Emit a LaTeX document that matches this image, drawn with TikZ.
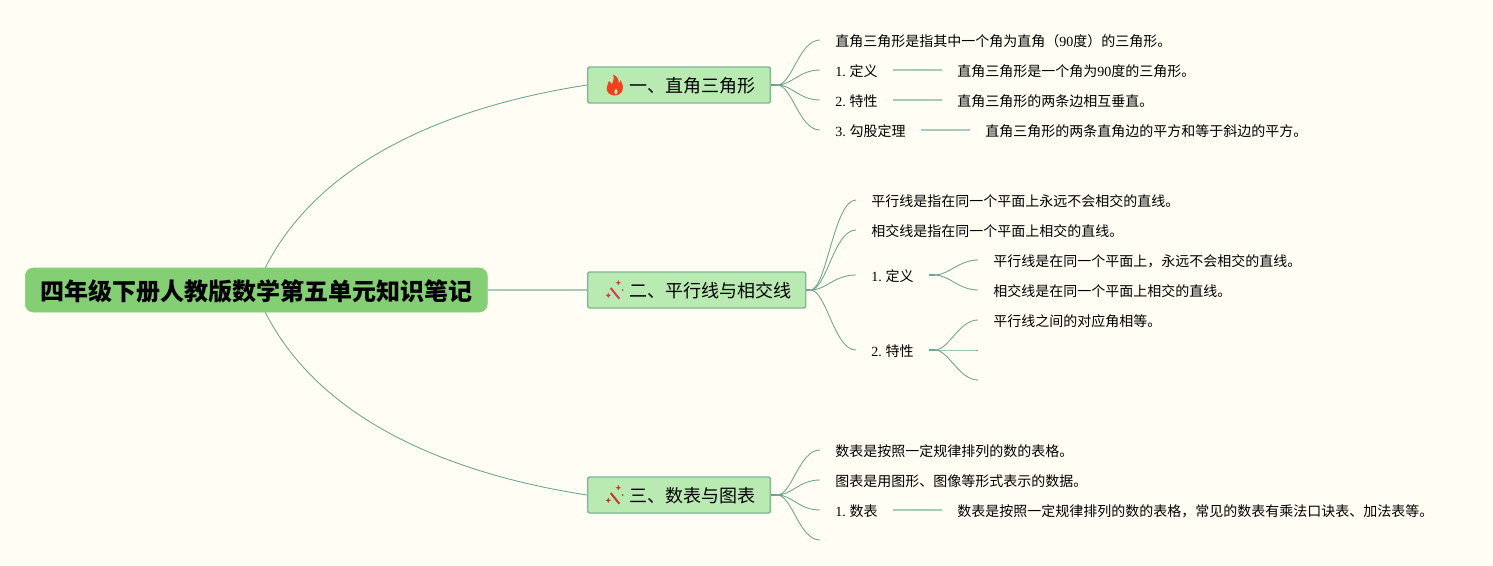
\documentclass[tikz,border=0pt]{standalone}
\usepackage{fontspec}
\newfontfamily\cjk{Noto Sans CJK SC}
\newfontfamily\lat{Liberation Serif}
\newcommand{\numlabel}[1]{{\lat #1.}\hspace{2.8pt}}
\definecolor{pagebg}{HTML}{FFFDF4}
\definecolor{rootfill}{HTML}{84CF74}
\definecolor{topicfill}{HTML}{B9EAB1}
\definecolor{topicline}{HTML}{7DB796}
\definecolor{branchline}{HTML}{6FA58E}
\definecolor{flamered}{HTML}{F0401C}
\definecolor{wandpink}{HTML}{D93A5C}
\definecolor{wandred}{HTML}{C93A26}
\tikzset{
  rootbox/.style={draw=rootfill,fill=rootfill,rounded corners=6pt,anchor=west,minimum width=346.5pt,minimum height=33pt,inner sep=0pt,text height=17pt,text depth=1pt,font=\cjk\fontsize{18pt}{22pt}\selectfont\bfseries},
  topicbox/.style={draw=topicline,fill=topicfill,line width=1.1pt,rounded corners=1.5pt,anchor=west,minimum height=27pt,inner xsep=12pt,inner ysep=0pt,text height=12.76pt,text depth=1pt,font=\cjk\fontsize{13.5pt}{16pt}\selectfont},
  leaf/.style={anchor=west,inner xsep=11.25pt,inner ysep=0pt,text height=10pt,text depth=0.5pt,font=\cjk\fontsize{10.5pt}{13pt}\selectfont},
  branch/.style={draw=branchline,line width=0.65pt},
  stub/.style={draw=branchline,line width=1.3pt},
  straight/.style={draw=branchline!60,line width=0.85pt},
  flame/.pic={
    \fill[flamered] (0,10) .. controls (-4.5,10) and (-8,7) .. (-7.8,2.5) .. controls (-7.6,-0.5) and (-6,-2) .. (-5.5,-4.5)
      .. controls (-3.8,-3.5) and (-3.2,-2.5) .. (-3,-1) .. controls (-1,-4) and (0,-8) .. (-1.5,-11)
      .. controls (2.5,-9.5) and (4.5,-6) .. (4.2,-2.5) .. controls (5.2,-3) and (5.8,-4) .. (6,-5.5)
      .. controls (8,-2.5) and (9,1) .. (8,4.5) .. controls (7,8) and (4,10) .. (0,10) -- cycle;
    \fill[topicfill] (1.5,9.2) .. controls (-0.5,8.5) and (-1,6) .. (1.5,3) .. controls (3.5,5.5) and (3.8,8) .. (1.5,9.2) -- cycle;
  },
  wand/.pic={
    \draw[line width=1.5pt,pic actions] (-4.3,-2) -- (4.3,8.7);
    \fill[pic actions] (3.3,-10) -- (4.2,-8) -- (6,-7.3) -- (4.2,-6.5) -- (3.3,-4.6) -- (2.4,-6.5) -- (0.6,-7.3) -- (2.4,-8) -- cycle;
    \fill[pic actions] (-6.7,2.6) -- (-5.8,4.5) -- (-4,5.3) -- (-5.8,6.1) -- (-6.7,8) -- (-7.6,6.1) -- (-9.4,5.3) -- (-7.6,4.5) -- cycle;
    \fill[pic actions] (7.7,0) circle (1);
  },
}
\begin{document}
\begin{tikzpicture}[x=0.75pt,y=-0.75pt]
\useasboundingbox[fill=pagebg] (0,0) rectangle (1493,565);

\node[rootbox] (root) at (25,290) {四年级下册人教版数学第五单元知识笔记};

\node[topicbox] (t1) at (587,85) {\hspace*{19.5pt}一、直角三角形\hspace*{-1pt}};
\node[topicbox] (t2) at (587,290) {\hspace*{19.5pt}二、平行线与相交线\hspace*{-1.5pt}};
\node[topicbox] (t3) at (587,495) {\hspace*{19.5pt}三、数表与图表\hspace*{-1pt}};

\pic at (614.5,85.5) {flame};
\pic[color=wandpink] at (615,290) {wand};
\pic[color=wandred] at (615,495) {wand};

% first topic
\node[leaf] (a1) at (820,40) {直角三角形是指其中一个角为直角（{\lat 90}度）的三角形。};
\node[leaf] (a2) at (820,70) {\numlabel{1}定义};
\node[leaf] (a3) at (820,100) {\numlabel{2}特性};
\node[leaf] (a4) at (820,130) {\numlabel{3}勾股定理};
\node[leaf] (a5) at (942,70) {直角三角形是一个角为{\lat 90}度的三角形。};
\node[leaf] (a6) at (942,100) {直角三角形的两条边相互垂直。};
\node[leaf] (a7) at (970,130) {直角三角形的两条直角边的平方和等于斜边的平方。};

% second topic
\node[leaf] (b1) at (856,200) {平行线是指在同一个平面上永远不会相交的直线。};
\node[leaf] (b2) at (856,230) {相交线是指在同一个平面上相交的直线。};
\node[leaf] (b3) at (856,275) {\numlabel{1}定义};
\node[leaf] (b4) at (856,350) {\numlabel{2}特性};
\node[leaf] (b5) at (978,260) {平行线是在同一个平面上，永远不会相交的直线。};
\node[leaf] (b6) at (978,290) {相交线是在同一个平面上相交的直线。};
\node[leaf] (b7) at (978,320) {平行线之间的对应角相等。};
\coordinate (b8) at (978,350);
\coordinate (b9) at (978,380);

% third topic
\node[leaf] (c1) at (820,450) {数表是按照一定规律排列的数的表格。};
\node[leaf] (c2) at (820,480) {图表是用图形、图像等形式表示的数据。};
\node[leaf] (c3) at (820,510) {\numlabel{1}数表};
\node[leaf] (c4) at (942,510) {数表是按照一定规律排列的数的表格，常见的数表有乘法口诀表、加法表等。};
\coordinate (c5) at (820,540);

\draw[branch] ([xshift=6.75pt]root.north) .. controls (325,150) and (470,103) .. (t1.west);
\draw[branch] ([xshift=6.75pt]root.south) .. controls (325,430) and (470,477) .. (t3.west);
\draw[straight] (root.east) -- (t2.west);

\coordinate (s1) at ([xshift=4.5pt]t1.east);
\coordinate (s2) at ([xshift=3pt]t2.east);
\coordinate (s3) at ([xshift=4.5pt]t3.east);
\coordinate (s4) at ([xshift=4.5pt]b3.east);
\coordinate (s5) at ([xshift=4.5pt]b4.east);

\draw[stub] (t1.east) -- (s1);
\draw[stub] (t2.east) -- (s2);
\draw[stub] (t3.east) -- (s3);
\draw[stub] (b3.east) -- (s4);
\draw[stub] (b4.east) -- (s5);

\foreach \leafname in {a1.west,a2.west,a3.west,a4.west}
  \draw[branch] (s1) .. controls +(15,0) and +(-21,0) .. (\leafname);
\foreach \leafname in {b1.west,b2.west,b3.west,b4.west}
  \draw[branch] (s2) .. controls +(16,0) and +(-22,0) .. (\leafname);
\foreach \leafname in {c1.west,c2.west,c3.west,c5}
  \draw[branch] (s3) .. controls +(15,0) and +(-21,0) .. (\leafname);

\foreach \leafname/\nextname in {a2/a5,a3/a6,a4/a7,c3/c4}
  \draw[straight] (\leafname.east) -- (\nextname.west);

\foreach \nextname in {b5.west,b6.west}
  \draw[branch] (s4) .. controls +(14,0) and +(-19,0) .. (\nextname);
\foreach \nextname in {b7.west,b8,b9}
  \draw[branch] (s5) .. controls +(14,0) and +(-19,0) .. (\nextname);
\end{tikzpicture}
\end{document}
